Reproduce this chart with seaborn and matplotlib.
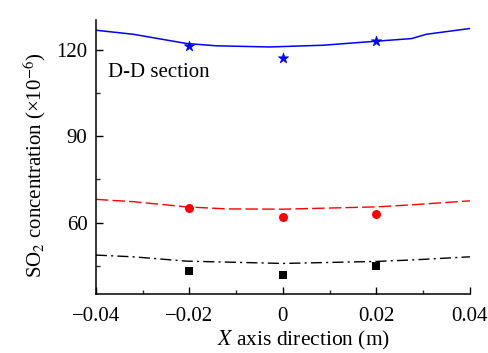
import matplotlib
matplotlib.use("Agg")
import matplotlib.pyplot as plt
from matplotlib.ticker import MultipleLocator
import pandas as pd
import seaborn as sns

# Simulated profiles along the X axis (lines)
sim_x_blue = [-0.04, -0.032, -0.0206, -0.0142, -0.0028, 0.0086, 0.020, 0.0275, 0.0307, 0.04]
sim_blue = [126.7, 125.3, 122.1, 121.3, 120.9, 121.5, 122.9, 123.8, 125.3, 127.3]
sim_x_red = [-0.04, -0.032, -0.0206, -0.012, 0.0, 0.02, 0.0275, 0.04]
sim_red = [68.1, 67.3, 65.5, 64.8, 64.7, 65.5, 66.2, 67.6]
sim_x_black = [-0.04, -0.032, -0.0206, 0.0, 0.02, 0.0275, 0.04]
sim_black = [48.8, 48.2, 46.7, 45.9, 46.6, 47.1, 48.2]

# Measured points
meas_x = [-0.02, 0.0, 0.02]
meas_blue = [121.1, 117.1, 123.1]
meas_red = [65.2, 62.1, 63.1]
meas_black = [43.3, 41.8, 45.0]

x_ticks = [-0.04, -0.02, 0.0, 0.02, 0.04]
x_tick_labels = ["\u22120.04", "\u22120.02", "0", "0.02", "0.04"]
y_ticks = [60, 90, 120]

sns.set_theme(style="ticks")
plt.rcParams["font.family"] = ["Liberation Serif", "DejaVu Serif"]
plt.rcParams["mathtext.fontset"] = "stix"
plt.rcParams["xtick.direction"] = "in"
plt.rcParams["ytick.direction"] = "in"

FS = 15

fig = plt.figure(figsize=(4.89, 3.53), dpi=100)
ax = fig.add_axes([0.196, 0.167, 0.765, 0.776])

sns.lineplot(x=sim_x_blue, y=sim_blue, ax=ax, color="#0000ff", lw=1.1,
             estimator=None, sort=False)
sns.lineplot(x=sim_x_red, y=sim_red, ax=ax, color="#ff0000", lw=1.0,
             estimator=None, sort=False, dashes=False)
ax.lines[-1].set_dashes([9, 3])
sns.lineplot(x=sim_x_black, y=sim_black, ax=ax, color="black", lw=1.0,
             estimator=None, sort=False)
ax.lines[-1].set_dashes([8, 3, 1.5, 3])

sns.scatterplot(x=meas_x, y=meas_blue, ax=ax, marker="*", s=60,
                color="#0000ff", edgecolor="#0000ff", linewidth=0.5, zorder=3)
sns.scatterplot(x=meas_x, y=meas_red, ax=ax, marker="o", s=42,
                color="#ff0000", edgecolor="#ff0000", linewidth=0, zorder=3)
sns.scatterplot(x=meas_x, y=meas_black, ax=ax, marker="s", s=32,
                color="black", edgecolor="black", linewidth=0, zorder=3)

ax.set_xlim(-0.04, 0.04)
ax.set_ylim(35.3, 130.2)
ax.set_xticks(x_ticks)
ax.set_xticklabels(x_tick_labels)
ax.set_yticks(y_ticks)
ax.xaxis.set_minor_locator(MultipleLocator(0.01))
ax.yaxis.set_minor_locator(MultipleLocator(15))
ax.tick_params(which="major", length=5, width=1, labelsize=FS, colors="black")
ax.tick_params(axis="x", which="major", pad=9)
ax.tick_params(axis="y", which="major", pad=6)
ax.tick_params(which="minor", length=3, width=1)
ax.tick_params(axis="x", which="both", top=False)
ax.tick_params(axis="y", which="both", right=False)

sns.despine(ax=ax)
for side in ("left", "bottom"):
    ax.spines[side].set_linewidth(1.1)
    ax.spines[side].set_color("black")

ax.set_xlabel("$X$ axis direction (m)", fontsize=15.5, color="black")
ax.set_ylabel("SO$_2$ concentration (\u00d710$^{-6}$)", fontsize=FS,
              color="black")
ax.xaxis.set_label_coords(0.556, -0.128)
ax.yaxis.set_label_coords(-0.128, 0.47)

ax.text(-0.0375, 112.2, "D-D section", fontsize=FS, va="center", ha="left",
        color="black")

fig.savefig("out.png", dpi=100)
